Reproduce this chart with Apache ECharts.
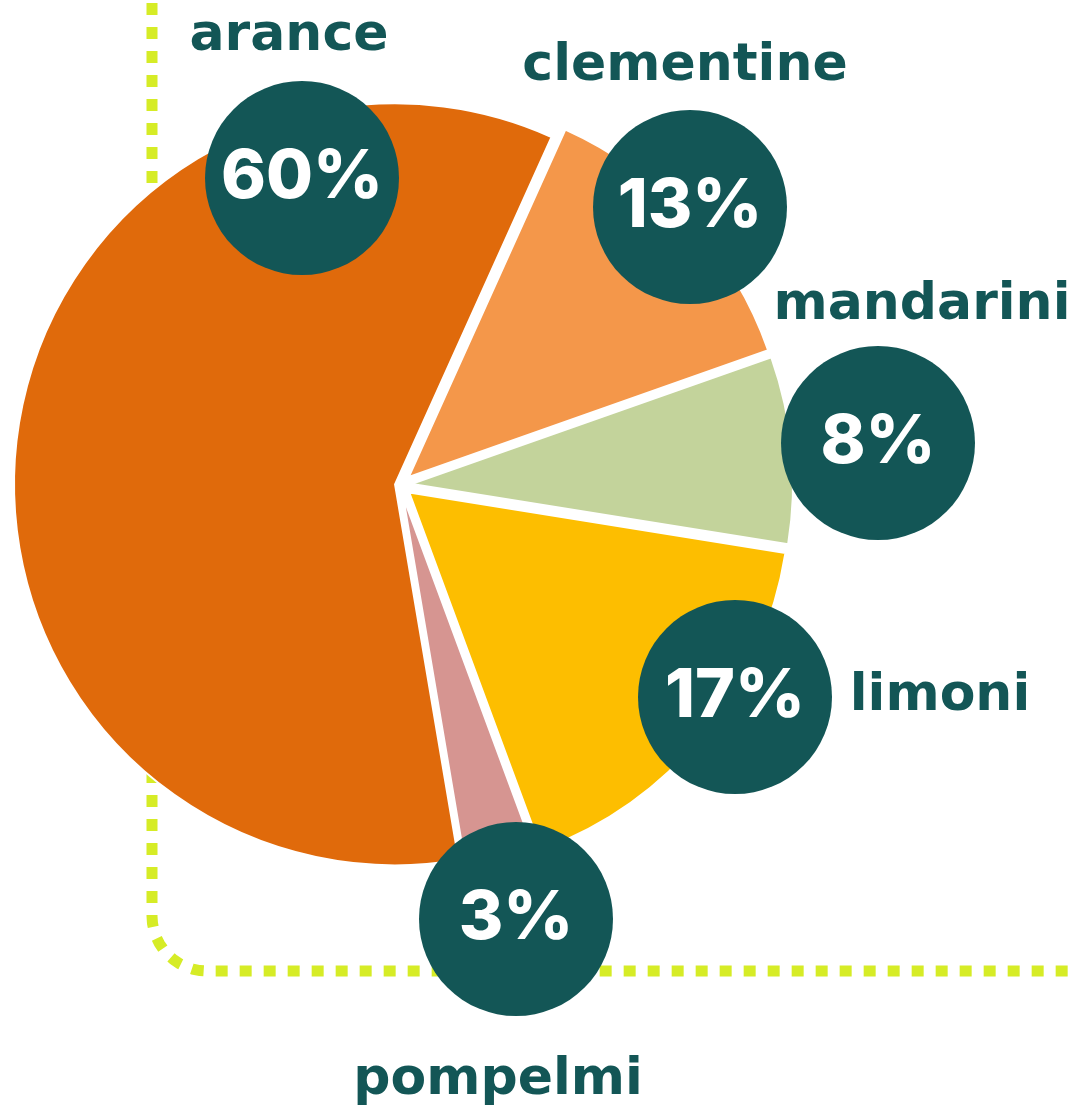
<!DOCTYPE html>
<html lang="it">
<head>
    <meta charset="UTF-8">
    <title>agrumi</title>
    <script src="https://cdn.jsdelivr.net/npm/echarts@6/dist/echarts.min.js"></script>
    <style>
        html, body { margin: 0; padding: 0; background: #fff; }
        #main { width: 1076px; height: 1111px; }
    </style>
</head>
<body>
<div id="main"></div>
<script>
    // dati
    var categorie = ['arance', 'clementine', 'mandarini', 'limoni', 'pompelmi'];
    var valori = [60, 13, 8, 17, 3];
    var colori = ['#E06A0B', '#F4974A', '#C3D39B', '#FDBE00', '#D69591'];

    // posizione dei cerchi e dei nomi (pixel)
    var posCerchi = [[302, 178], [690, 207], [878, 443], [735, 697], [516, 919]];
    var posNomi = [[289, 36], [685, 66], [922, 305], [940, 696], [498, 1080]];

    var verde = '#135656';
    var centro = [400, 485];
    var raggio = 381;
    var inizio = 90 - 170.4;

    // arance si stacca poco, le altre fette di piu
    function fette(soloArance) {
        return categorie.map(function (n, i) {
            var visibile = (i === 0) === soloArance;
            return {
                name: n,
                value: valori[i],
                selected: true,
                itemStyle: visibile
                    ? { color: colori[i], borderColor: '#fff', borderWidth: 2 }
                    : { color: 'rgba(0,0,0,0)', borderWidth: 0 }
            };
        });
    }

    // serie trasparente che porta solo le etichette
    function etichette(pos, label) {
        return {
            type: 'pie',
            z: 10,
            center: centro,
            radius: [0, raggio],
            startAngle: inizio,
            avoidLabelOverlap: false,
            silent: true,
            itemStyle: { color: 'rgba(0,0,0,0)', borderWidth: 0 },
            labelLine: { show: false },
            label: label,
            labelLayout: function (p) {
                var c = pos[p.dataIndex];
                return { x: c[0], y: c[1], align: 'center', verticalAlign: 'middle' };
            },
            data: categorie.map(function (n, i) { return { name: n, value: valori[i] }; })
        };
    }

    // cornice tratteggiata: linea verticale, angolo arrotondato, linea orizzontale
    var cornice = [[152, 0], [152, 916]];
    for (var k = 1; k < 12; k++) {
        var a = Math.PI - k * (Math.PI / 2) / 12;
        cornice.push([207 + 55 * Math.cos(a), 916 + 55 * Math.sin(a)]);
    }
    cornice.push([207, 971], [1076, 971]);

    var myChart = echarts.init(document.getElementById('main'));

    var option = {
        animation: false,
        series: [
            {
                type: 'pie',
                center: centro,
                radius: [0, raggio],
                startAngle: inizio,
                selectedMode: 'multiple',
                selectedOffset: 5,
                silent: true,
                label: { show: false },
                labelLine: { show: false },
                data: fette(true)
            },
            {
                type: 'pie',
                center: centro,
                radius: [0, raggio],
                startAngle: inizio,
                selectedMode: 'multiple',
                selectedOffset: 12,
                silent: true,
                label: { show: false },
                labelLine: { show: false },
                data: fette(false)
            },
            etichette(posCerchi, {
                show: true,
                formatter: '{p|{c}%}',
                rich: {
                    p: {
                        width: 194, height: 194, lineHeight: 194,
                        align: 'center',
                        backgroundColor: verde,
                        borderRadius: 97,
                        color: '#fff',
                        fontFamily: 'Inter',
                        fontWeight: 800,
                        fontSize: 68
                    }
                }
            }),
            etichette(posNomi, {
                show: true,
                formatter: '{b}',
                color: verde,
                fontFamily: 'DejaVu Sans',
                fontWeight: 'bold',
                fontSize: 52
            })
        ],
        graphic: [
            {
                type: 'polyline',
                z: -10,
                silent: true,
                shape: { points: cornice },
                style: {
                    fill: null,
                    stroke: '#D6EC26',
                    lineWidth: 11,
                    lineDash: [12, 12],
                    lineDashOffset: -3
                }
            }
        ]
    };

    myChart.setOption(option);
</script>
</body>
</html>
